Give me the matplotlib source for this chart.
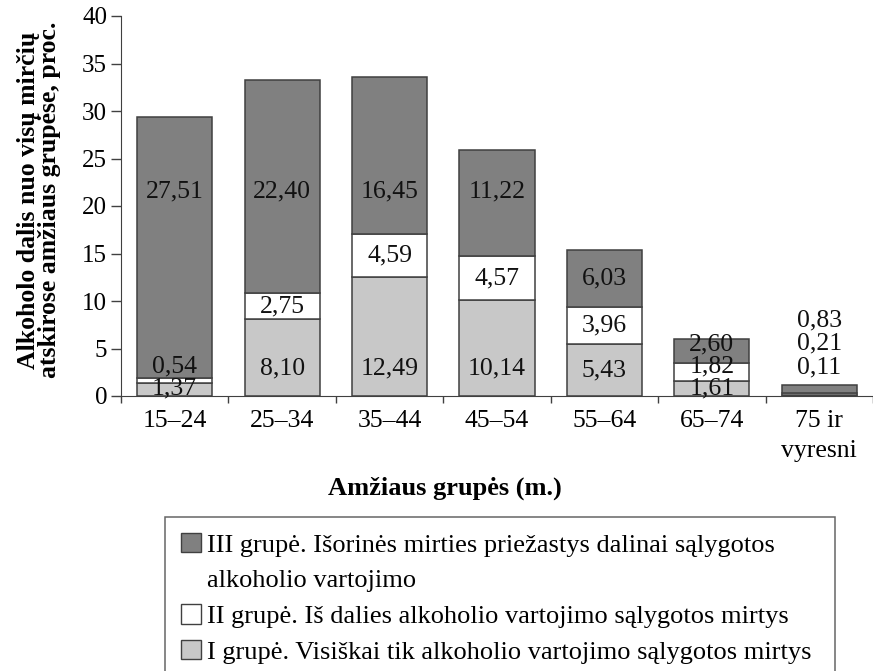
import matplotlib
matplotlib.use('Agg')
import matplotlib.pyplot as plt
from matplotlib.patches import Patch
import numpy as np

ages = ['15–24', '25–34', '35–44', '45–54', '55–64', '65–74', '75 ir\nvyresni']
grp1 = [1.37, 8.10, 12.49, 10.14, 5.43, 1.61, 0.11]
grp2 = [0.54, 2.75, 4.59, 4.57, 3.96, 1.82, 0.21]
grp3 = [27.51, 22.40, 16.45, 11.22, 6.03, 2.60, 0.83]

legend_labels = [
  'III grupė. Išorinės mirties priežastys dalinai sąlygotos',
  'alkoholio vartojimo',
  'II grupė. Iš dalies alkoholio vartojimo sąlygotos mirtys',
  'I grupė. Visiškai tik alkoholio vartojimo sąlygotos mirtys',
]

colors = ['#c8c8c8', '#ffffff', '#808080']
edge = '#404040'


def fmt(v):
  return ('%.2f' % v).replace('.', ',')


def label_heights(vals):
  # where to write the three numbers of one bar
  total = sum(vals)
  if total < 2:
    return [total + 1.9 + 2.45 * i for i in range(3)]
  bottoms = np.concatenate([[0], np.cumsum(vals)[:-1]])
  centers = bottoms + np.array(vals) / 2.
  ys = [min(centers[0], 2.9), centers[1]]
  top3 = bottoms[2] + vals[2]
  ys.append(21.5 if bottoms[2] < 21.5 < top3 else centers[2])
  ys[0] = max(ys[0], 0.8)
  for i in (1, 2):
    ys[i] = max(ys[i], ys[i - 1] + 2.3)
  return ys


def main():
  plt.rcParams['font.family'] = ['Liberation Serif', 'DejaVu Serif']
  fig = plt.figure(figsize=(8.73, 6.71), dpi=100)
  ax = fig.add_axes([121 / 873., 1 - 396 / 671., 752 / 873., 380 / 671.])

  x = np.arange(len(ages))
  w = 0.70
  bottom = np.zeros(len(ages))
  for vals, c in zip([grp1, grp2, grp3], colors):
    ax.bar(x, vals, w, bottom=bottom, color=c, edgecolor=edge, linewidth=1.1)
    bottom += np.array(vals)

  for i in range(len(ages)):
    vals = [grp1[i], grp2[i], grp3[i]]
    for v, y in zip(vals, label_heights(vals)):
      ax.text(x[i], y, fmt(v), ha='center', va='center', fontsize=18.5,
              color='#111111')

  ax.set_xlim(-0.5, 6.45)
  ax.set_ylim(0, 40)
  ax.set_yticks(range(0, 41, 5))
  ax.set_xticks(x)
  ax.set_xticklabels(ages, fontsize=18.5, linespacing=1.45)
  ax.set_xticks(np.arange(-0.5, 7, 1), minor=True)
  ax.tick_params(axis='x', which='major', length=0, pad=10)
  ax.tick_params(axis='x', which='minor', length=5, width=1, color=edge)
  ax.tick_params(axis='y', length=7, width=1, color=edge, labelsize=18, pad=3)
  for s in ['top', 'right']:
    ax.spines[s].set_visible(False)
  for s in ['left', 'bottom']:
    ax.spines[s].set_color(edge)

  fig.text(445 / 873., 1 - 488 / 671., 'Amžiaus grupės (m.)', ha='center', va='center',
           fontsize=19, fontweight='bold')
  fig.text(39 / 873., 1 - 200 / 671., 'Alkoholo dalis nuo visų mirčių\natskirose amžiaus grupėse, proc.',
           rotation=90, ha='center', va='center', fontsize=18.5, fontweight='bold',
           linespacing=0.92)

  handles = [Patch(facecolor=colors[2], edgecolor=edge),
             Patch(facecolor='none', edgecolor='none'),
             Patch(facecolor=colors[1], edgecolor=edge),
             Patch(facecolor=colors[0], edgecolor=edge)]
  leg = fig.legend(handles, legend_labels, loc='upper left',
                   bbox_to_anchor=(165 / 873., 0, 670 / 873., 1 - 517 / 671.),
                   mode='expand', fontsize=19, frameon=True, fancybox=False,
                   handlelength=0.75, handleheight=0.75, handletextpad=0.25,
                   labelspacing=0.45, borderpad=0.6, borderaxespad=0)
  leg.get_frame().set_edgecolor(edge)
  leg.get_frame().set_linewidth(1.1)

  plt.savefig('out.png', dpi=100)


if __name__ == "__main__":
  main()
